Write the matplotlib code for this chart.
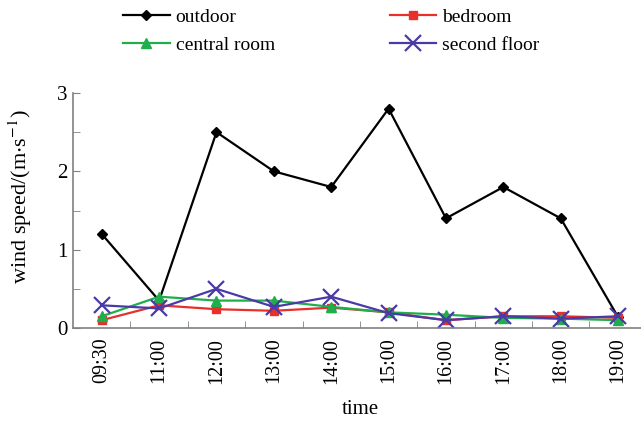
import matplotlib
matplotlib.use('Agg')
import matplotlib.pyplot as plt
from matplotlib.ticker import MultipleLocator, FixedLocator
import numpy as np

plt.rcParams['font.family'] = ['Liberation Serif', 'DejaVu Serif']
plt.rcParams['mathtext.fontset'] = 'stix'

times = ['09:30', '11:00', '12:00', '13:00', '14:00', '15:00',
         '16:00', '17:00', '18:00', '19:00']
outdoor = [1.2, 0.35, 2.5, 2.0, 1.8, 2.8, 1.4, 1.8, 1.4, 0.14]
bedroom = [0.1, 0.29, 0.24, 0.22, 0.26, 0.2, 0.1, 0.15, 0.15, 0.13]
central_room = [0.15, 0.4, 0.35, 0.35, 0.27, 0.2, 0.17, 0.13, 0.12, 0.1]
second_floor = [0.29, 0.25, 0.5, 0.27, 0.4, 0.19, 0.1, 0.15, 0.12, 0.15]

fig = plt.figure(figsize=(6.41, 4.22), dpi=100)
ax = fig.add_axes([0.114, 0.2227, 0.895, 0.5569])

x = np.arange(len(times))
l_out, = ax.plot(x, outdoor, '-D', color='black', markersize=5.5, linewidth=1.6)
l_bed, = ax.plot(x, bedroom, '-s', color='#e8302a', markersize=6, linewidth=1.6)
l_cen, = ax.plot(x, central_room, '-^', color='#1fae4b', markersize=7, linewidth=1.6)
l_sec, = ax.plot(x, second_floor, '-x', color='#4a3aa8', markersize=12,
                 markeredgewidth=1.6, linewidth=1.6)

ax.set_xlim(-0.5, 9.5)
ax.set_ylim(0, 3)
ax.set_xticks(x)
ax.set_xticklabels(times, rotation=90, fontsize=14.5)
ax.xaxis.set_minor_locator(FixedLocator(np.arange(0.5, 9.5, 1)))
ax.tick_params(axis='x', which='major', length=0, pad=7)
ax.tick_params(axis='x', which='minor', direction='in', length=5, color='#808080')
ax.yaxis.set_major_locator(MultipleLocator(1))
ax.yaxis.set_minor_locator(MultipleLocator(0.5))
ax.tick_params(axis='y', which='both', direction='in', length=5, color='#808080',
               labelsize=15, pad=4)

for side in ['top', 'right']:
    ax.spines[side].set_visible(False)
for side in ['left', 'bottom']:
    ax.spines[side].set_color('#808080')
    ax.spines[side].set_linewidth(1.2)

ax.set_ylabel(r'wind speed/(m$\cdot$s$^{-1}$)', fontsize=16)
ax.yaxis.set_label_coords(-0.068, 0.56)
ax.set_xlabel('time', fontsize=15, labelpad=12)

leg_kw = dict(frameon=False, fontsize=14, handlelength=2.4, handletextpad=0.3,
              labelspacing=0.55, borderaxespad=0, borderpad=0.2)
fig.legend([l_out, l_cen], ['outdoor', 'central room'],
           loc='upper left', bbox_to_anchor=(0.186, 0.99), **leg_kw)
fig.legend([l_bed, l_sec], ['bedroom', 'second floor'],
           loc='upper left', bbox_to_anchor=(0.602, 0.99), **leg_kw)

fig.savefig('out.png', dpi=100)
